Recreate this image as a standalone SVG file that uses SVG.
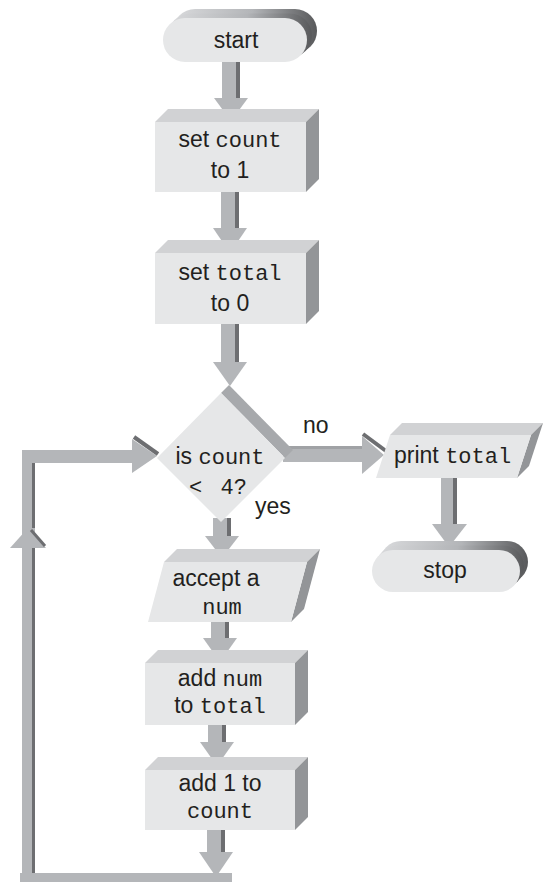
<svg xmlns="http://www.w3.org/2000/svg" width="544" height="882" viewBox="0 0 544 882">
<defs>
<linearGradient id="pill" x1="0" y1="0" x2="1" y2="0">
<stop offset="0" stop-color="#d9dadc"/>
<stop offset="0.55" stop-color="#b3b5b8"/>
<stop offset="1" stop-color="#58595b"/>
</linearGradient>
<style>
.front{fill:#e6e7e8}
.top{fill:#d1d2d4}
.side{fill:#939598}
.lt{fill:#b4b6b9}
.dk{fill:#6d6e71}
.band{fill:#a7a9ac}
.sans{font-family:"Liberation Sans",Arial,sans-serif;font-size:23px;fill:#231f20}
.mono{font-family:"Liberation Mono","Courier New",monospace;font-size:22px}
</style>
</defs>
<rect width="544" height="882" fill="#ffffff"/>

<g id="connectors">
  <rect class="lt" x="222" y="60" width="14" height="39"/><rect class="dk" x="236" y="60" width="4" height="39"/>
  <polygon class="lt" points="214,98 248,98 231,121"/>
  <rect class="lt" x="221" y="190" width="14" height="39"/><rect class="dk" x="235" y="190" width="4" height="39"/>
  <polygon class="lt" points="213,228 247,228 230,253"/>
  <rect class="lt" x="221" y="322" width="14" height="41"/><rect class="dk" x="235" y="322" width="4" height="41"/>
  <polygon class="lt" points="213,362 247,362 230,386"/>
  <rect class="lt" x="213" y="518" width="14" height="19"/><rect class="dk" x="227" y="518" width="4" height="19"/>
  <polygon class="lt" points="205,536 239,536 222,558"/>
  <rect class="lt" x="211" y="620" width="14" height="19"/><rect class="dk" x="225" y="620" width="4" height="19"/>
  <polygon class="lt" points="203,638 237,638 220,662"/>
  <rect class="lt" x="208" y="723" width="14" height="20"/><rect class="dk" x="222" y="723" width="4" height="20"/>
  <polygon class="lt" points="200,742 234,742 217,766"/>
  <rect class="lt" x="441" y="476" width="12" height="49"/><rect class="dk" x="453" y="476" width="4" height="49"/>
  <polygon class="lt" points="432,524 467,524 449,547"/>
  <rect class="lt" x="283" y="446" width="80" height="16"/><rect fill="#a0a2a5" x="283" y="446" width="80" height="3"/>
  <polygon class="lt" points="362,436 384,455 362,474"/>
  <line x1="363" y1="434" x2="386" y2="451" stroke="#6d6e71" stroke-width="4"/>
  <rect class="lt" x="20" y="873" width="212" height="9"/>
  <rect class="lt" x="22" y="450" width="13" height="432"/>
  <rect class="lt" x="22" y="450" width="111" height="13"/>
  <rect class="dk" x="32" y="463" width="3" height="65"/>
  <rect class="dk" x="32" y="548" width="3" height="325"/>
  <polygon class="lt" points="10,548 46,548 28,528"/>
  <line x1="31" y1="530" x2="45" y2="546" stroke="#6d6e71" stroke-width="3"/>
  <polygon class="lt" points="132,439 157,456 132,473"/>
  <line x1="134" y1="437" x2="158" y2="454" stroke="#6d6e71" stroke-width="4"/>
  <rect class="lt" x="207" y="828" width="14" height="25"/><rect class="dk" x="221" y="828" width="4" height="25"/>
  <polygon class="lt" points="199,852 233,852 216,877"/>
</g>

<g id="start">
  <rect x="173" y="9" width="144" height="44" rx="22" fill="url(#pill)"/>
  <rect x="168" y="13.5" width="144" height="44" rx="22" fill="url(#pill)"/>
  <rect class="front" x="163" y="18" width="144" height="44" rx="22"/>
  <text class="sans" x="236" y="48" text-anchor="middle">start</text>
</g>

<g id="set-count">
  <polygon class="top" points="155,122 168,109 319,109 306,122"/>
  <polygon class="side" points="306,122 319,109 319,179 306,192"/>
  <rect class="front" x="155" y="122" width="151" height="70"/>
  <text class="sans" x="230" y="147" text-anchor="middle">set <tspan class="mono">count</tspan></text>
  <text class="sans" x="230" y="178" text-anchor="middle">to 1</text>
</g>

<g id="set-total">
  <polygon class="top" points="155,253 168,240 319,240 306,253"/>
  <polygon class="side" points="306,253 319,240 319,311 306,324"/>
  <rect class="front" x="155" y="253" width="151" height="71"/>
  <text class="sans" x="230" y="280" text-anchor="middle">set <tspan class="mono">total</tspan></text>
  <text class="sans" x="230" y="311" text-anchor="middle">to 0</text>
</g>

<g id="decision">
  <polygon class="band" points="221,393 229,385 293,450 285,458"/>
  <polygon class="front" points="221,393 285,458 221,522 157,458"/>
  <text class="sans" x="220" y="464" text-anchor="middle">is <tspan class="mono">count</tspan></text>
  <text class="sans mono" x="218" y="494" text-anchor="middle" fill="#231f20" word-spacing="5">&lt; 4?</text>
  <text class="sans" x="303" y="433">no</text>
  <text class="sans" x="255" y="514">yes</text>
</g>

<g id="print-total">
  <polygon class="top" points="390,435 402,423 543,423 531,435"/>
  <polygon class="side" points="531,435 543,423 529,466 517,478"/>
  <polygon class="front" points="390,435 531,435 517,478 376,478"/>
  <text class="sans" x="394" y="463">print <tspan class="mono">total</tspan></text>
</g>

<g id="stop">
  <rect x="380" y="541" width="148" height="42" rx="21" fill="url(#pill)"/>
  <rect x="376" y="545.5" width="148" height="42" rx="21" fill="url(#pill)"/>
  <rect class="front" x="372" y="550" width="148" height="42" rx="21"/>
  <text class="sans" x="445" y="578" text-anchor="middle">stop</text>
</g>

<g id="accept">
  <polygon class="top" points="164,562 177,549 320,549 307,562"/>
  <polygon class="side" points="307,562 320,549 304,609 291,622"/>
  <polygon class="front" points="164,562 307,562 291,622 148,622"/>
  <text class="sans" x="216" y="586" text-anchor="middle">accept a</text>
  <text class="sans mono" x="222" y="614" text-anchor="middle">num</text>
</g>

<g id="add-num">
  <polygon class="top" points="145,663 158,650 308,650 295,663"/>
  <polygon class="side" points="295,663 308,650 308,712 295,725"/>
  <rect class="front" x="145" y="663" width="150" height="62"/>
  <text class="sans" x="220" y="686" text-anchor="middle">add <tspan class="mono">num</tspan></text>
  <text class="sans" x="220" y="713" text-anchor="middle">to <tspan class="mono">total</tspan></text>
</g>

<g id="add-one">
  <polygon class="top" points="145,770 158,757 308,757 295,770"/>
  <polygon class="side" points="295,770 308,757 308,817 295,830"/>
  <rect class="front" x="145" y="770" width="150" height="60"/>
  <text class="sans" x="220" y="791" text-anchor="middle">add 1 to</text>
  <text class="sans mono" x="220" y="818" text-anchor="middle">count</text>
</g>
</svg>
